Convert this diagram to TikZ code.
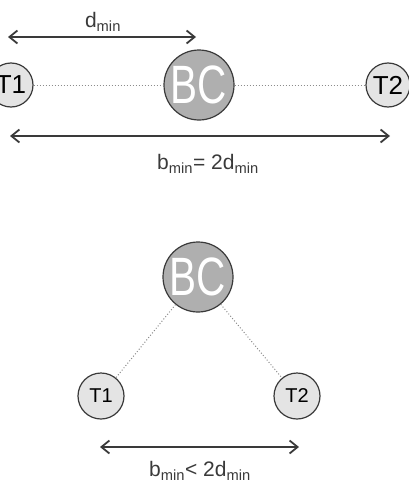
\documentclass[tikz,border=0pt]{standalone}
\usepackage{fontspec}
\setmainfont{Liberation Sans}
\usetikzlibrary{arrows.meta, positioning}
\definecolor{tgray}{HTML}{E4E4E4}
\definecolor{bcgray}{HTML}{AFAFAF}
\definecolor{dkline}{HTML}{3A3A3A}
\definecolor{dotgray}{HTML}{8C8C8C}

\begin{document}
\begin{tikzpicture}[x=1pt, y=-1pt, >={Straight Barb[length=8pt, width=13pt]},
  term/.style={circle, draw=dkline, fill=tgray, line width=1.2pt, minimum size=44pt, inner sep=0pt},
  bcnode/.style={circle, draw=dkline, fill=bcgray, line width=1.2pt, minimum size=70pt, inner sep=0pt, text=white, font=\fontsize{54}{56}\selectfont},
  link/.style={dotgray, dotted, line width=1pt},
  span/.style={<->, dkline, line width=1.8pt},
  lbl/.style={font=\fontsize{21}{24}\selectfont, text=dkline}]

\useasboundingbox (0,0) rectangle (408,482);

% ========== Top: terminals in a line ==========
\node[term, font=\fontsize{26}{28}\selectfont] (t1a) at (11,85) {T1};
\node[term, font=\fontsize{26}{28}\selectfont] (t2a) at (388,85) {T2};
\node[bcnode] (bca) at (199,85) {\scalebox{0.75}[1]{BC}};

\draw[link] (t1a) -- (bca);
\draw[link] (bca) -- (t2a);

% d_min
\coordinate (dl) at (8,37);
\coordinate (dr) at (196,37);
\draw[span] (dl) -- (dr);
\node[lbl] (dlbl) at (103,22) {d\textsubscript{min}};

% b_min = 2 d_min
\coordinate (bl) at (10,136);
\coordinate (br) at (390,136);
\draw[span] (bl) -- (br);
\node[lbl] (blbl) at (208,164) {b\textsubscript{min}= 2d\textsubscript{min}};

% ========== Bottom: terminals in a triangle ==========
\node[bcnode] (bcb) at (198,277) {\scalebox{0.75}[1]{BC}};
\node[term, minimum size=46pt, font=\fontsize{20}{22}\selectfont] (t1b) at (101,396) {T1};
\node[term, minimum size=46pt, font=\fontsize{20}{22}\selectfont] (t2b) at (297,396) {T2};

\draw[link] (bcb) -- (t1b);
\draw[link] (bcb) -- (t2b);

% b_min < 2 d_min
\coordinate (cl) at (100,447);
\coordinate (cr) at (299,447);
\draw[span] (cl) -- (cr);
\node[lbl] (clbl) at (200,471) {b\textsubscript{min}< 2d\textsubscript{min}};

\end{tikzpicture}
\end{document}
